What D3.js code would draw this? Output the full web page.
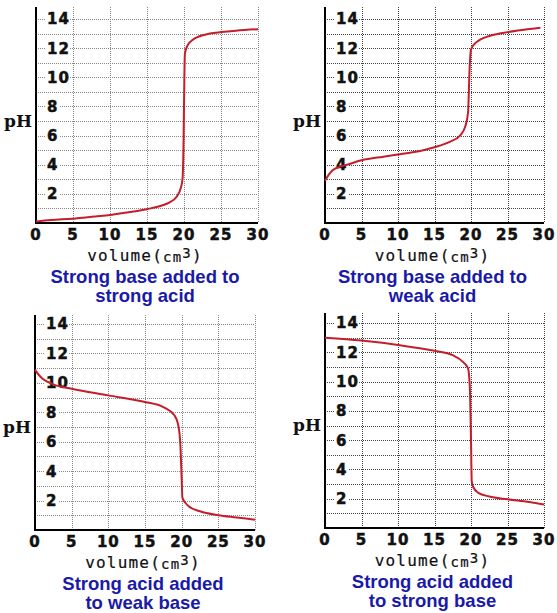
<!DOCTYPE html>
<html>
<head>
<meta charset="utf-8">
<script src="https://cdn.jsdelivr.net/npm/d3@7"></script>
<style>
  body { margin: 0; background: #fff; }
  svg { display: block; }
  .tick-label { font-family: 'DejaVu Sans', sans-serif; font-weight: bold; font-size: 15px; fill: #111; stroke: #111; stroke-width: 0.5px; }
  .vol-label { font-family: 'DejaVu Sans Mono', monospace; font-size: 16px; fill: #111; stroke: #111; stroke-width: 0.2px; }
  .ph-label { font-family: 'DejaVu Serif', serif; font-weight: bold; font-size: 17px; fill: #111; }
  .title { font-family: 'Liberation Sans', sans-serif; font-weight: bold; font-size: 18.5px; fill: #1a1aa8; }
</style>
</head>
<body>
<div id="chart"></div>
<script>
// tick values
const volumeTicks = [0, 5, 10, 15, 20, 25, 30]
const phLabels = [2, 4, 6, 8, 10, 12, 14]
const phGrid = [1, 2, 3, 4, 5, 6, 7, 8, 9, 10, 11, 12, 13, 14]
const volGrid = [5, 10, 15, 20, 25, 30]

// titration curves, [volume cm3, pH]
const strongBaseStrongAcid = [
  [0, 0.1], [2, 0.2], [5, 0.3], [8, 0.45], [10, 0.55], [12, 0.7], [15, 0.95],
  [17, 1.2], [18, 1.4], [19, 1.8], [19.5, 2.3], [19.8, 3], [19.95, 6], [20, 8],
  [20.05, 10], [20.12, 11.6], [20.4, 12.1], [21, 12.5], [22, 12.8], [23.5, 13],
  [25, 13.1], [27, 13.2], [30, 13.3]
]
const strongBaseWeakAcid = [
  [0, 2.9], [0.5, 3.3], [1, 3.6], [2, 3.85], [3, 4.0], [5, 4.3], [8, 4.55],
  [10, 4.7], [12, 4.85], [15, 5.2], [17, 5.55], [18.5, 6.0], [19.2, 6.6],
  [19.6, 7.6], [19.8, 10.5], [20, 11.9], [20.5, 12.3], [21, 12.5], [23, 12.9],
  [25, 13.1], [27, 13.25], [29.5, 13.4]
]
const strongAcidWeakBase = [
  [0, 10.9], [0.5, 10.55], [1, 10.3], [2.5, 9.9], [5, 9.6], [10, 9.15],
  [15, 8.7], [17.5, 8.35], [19, 7.8], [19.5, 7.2], [19.8, 6], [20, 3.5],
  [20.1, 2.2], [20.5, 1.85], [21, 1.6], [22.5, 1.27], [25, 1.0], [27.5, 0.85],
  [30, 0.7]
]
const strongAcidStrongBase = [
  [0, 13], [5, 12.8], [10, 12.5], [15, 12.1], [17.5, 11.8], [19, 11.3],
  [19.6, 10.9], [19.85, 9.5], [20, 6], [20.1, 3.2], [20.3, 2.8], [21, 2.4],
  [22.5, 2.15], [25, 1.96], [28, 1.77], [30, 1.6]
]

const titles = [
  ['Strong base added to', 'strong acid'],
  ['Strong base added to', 'weak acid'],
  ['Strong acid added', 'to weak base'],
  ['Strong acid added', 'to strong base']
]

const panels = [
  { data: strongBaseStrongAcid, title: titles[0], left: 36, right: 258, y14: 19, y0: 223, top: 7, grid: '#888' },
  { data: strongBaseWeakAcid, title: titles[1], left: 325, right: 544, y14: 19, y0: 223, top: 7, grid: '#444' },
  { data: strongAcidWeakBase, title: titles[2], left: 35, right: 255, y14: 324, y0: 530, top: 315, grid: '#888' },
  { data: strongAcidStrongBase, title: titles[3], left: 325, right: 544, y14: 323, y0: 528, top: 313, grid: '#444' }
]

const svg = d3.select('#chart').append('svg')
  .attr('width', 557)
  .attr('height', 613)

panels.forEach(function(p) {
  const x = d3.scaleLinear().domain([0, 30]).range([p.left, p.right])
  const y = d3.scaleLinear().domain([0, 14]).range([p.y0, p.y14])
  const g = svg.append('g')

  // dotted grid
  g.selectAll('line.h')
    .data(phGrid)
    .enter()
    .append('line')
    .attr('x1', x(0)).attr('x2', x(30))
    .attr('y1', d => Math.round(y(d)) + 0.5).attr('y2', d => Math.round(y(d)) + 0.5)
    .attr('stroke', p.grid)
    .attr('stroke-dasharray', '1,1')

  g.selectAll('line.v')
    .data(volGrid)
    .enter()
    .append('line')
    .attr('x1', d => Math.round(x(d)) + 0.5).attr('x2', d => Math.round(x(d)) + 0.5)
    .attr('y1', p.top).attr('y2', y(0))
    .attr('stroke', p.grid)
    .attr('stroke-dasharray', '1,1')

  // pH labels sit inside the plot on a white patch
  const lab = g.selectAll('g.ylab')
    .data(phLabels)
    .enter()
    .append('g')
    .attr('transform', d => 'translate(' + (x(0) + 11) + ',' + y(d) + ')')
  lab.append('rect')
    .attr('x', -1).attr('y', -7)
    .attr('width', d => (d >= 10 ? 23 : 13)).attr('height', 14)
    .attr('fill', '#fff')
  lab.append('text')
    .attr('class', 'tick-label')
    .attr('dy', '0.36em')
    .attr('letter-spacing', 1)
    .text(d => d)

  // axes
  g.append('line')
    .attr('x1', x(0)).attr('x2', x(0))
    .attr('y1', p.top).attr('y2', y(0) + 1)
    .attr('stroke', '#000').attr('stroke-width', 2)
  g.append('line')
    .attr('x1', x(0) - 1).attr('x2', x(30))
    .attr('y1', y(0)).attr('y2', y(0))
    .attr('stroke', '#000').attr('stroke-width', 2)

  g.selectAll('text.xlab')
    .data(volumeTicks)
    .enter()
    .append('text')
    .attr('class', 'tick-label')
    .attr('x', d => x(d))
    .attr('y', y(0) + 17)
    .attr('text-anchor', 'middle')
    .attr('letter-spacing', 1)
    .text(d => d)

  const cx = (x(0) + x(30)) / 2 - 2
  const vol = g.append('text')
    .attr('class', 'vol-label')
    .attr('x', cx)
    .attr('y', y(0) + 38)
    .attr('text-anchor', 'middle')
    .attr('letter-spacing', 1.2)
  vol.append('tspan').text('volume(')
  vol.append('tspan').attr('font-size', 14).attr('dy', 1).text('cm')
  vol.append('tspan').attr('font-size', 14).attr('dy', -4).text('3')
  vol.append('tspan').attr('dy', 3).text(')')

  g.append('text')
    .attr('class', 'ph-label')
    .attr('x', x(0) - 4)
    .attr('y', y(6.6))
    .attr('text-anchor', 'end')
    .text('pH')

  g.selectAll('text.title')
    .data(p.title)
    .enter()
    .append('text')
    .attr('class', 'title')
    .attr('x', cx)
    .attr('y', (d, i) => y(0) + 60 + i * 19)
    .attr('text-anchor', 'middle')
    .text(d => d)

  // the curve
  const line = d3.line()
    .x(d => x(d[0]))
    .y(d => y(d[1]))
    .curve(d3.curveMonotoneX)
  g.append('path')
    .datum(p.data)
    .attr('d', line)
    .attr('fill', 'none')
    .attr('stroke', '#c41e2a')
    .attr('stroke-width', 2)
})
</script>
</body>
</html>
